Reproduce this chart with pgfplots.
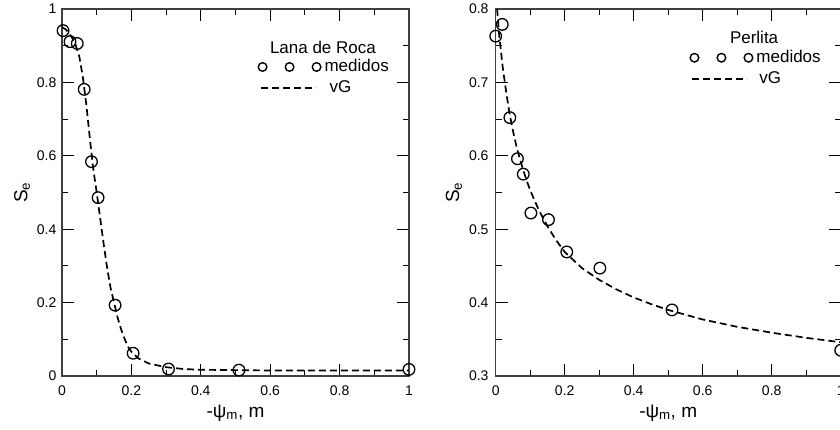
\documentclass[border=0pt]{standalone}
\usepackage{pgfplots}
\pgfplotsset{compat=1.18}
\usepackage{fontspec}
\setmainfont{Liberation Sans}

% measured points, left: lana de roca, right: perlita
\pgfplotstableread{
x y
0.003 0.941
0.023 0.911
0.044 0.906
0.064 0.781
0.085 0.584
0.104 0.486
0.153 0.193
0.205 0.062
0.307 0.019
0.510 0.016
1.000 0.018
}\lanamed
\pgfplotstableread{
x y
0.000 0.950
0.010 0.945
0.020 0.935
0.030 0.920
0.040 0.900
0.050 0.870
0.060 0.815
0.070 0.740
0.080 0.650
0.090 0.565
0.100 0.500
0.110 0.430
0.120 0.360
0.130 0.295
0.140 0.240
0.150 0.200
0.160 0.160
0.170 0.128
0.180 0.102
0.190 0.080
0.200 0.066
0.220 0.048
0.250 0.034
0.300 0.024
0.350 0.019
0.400 0.017
0.500 0.016
0.600 0.015
0.800 0.015
1.000 0.015
}\lanavg
\pgfplotstableread{
x y
0.000 0.763
0.019 0.779
0.041 0.652
0.063 0.596
0.080 0.575
0.102 0.522
0.153 0.513
0.206 0.469
0.302 0.447
0.511 0.390
1.000 0.335
}\permed
\pgfplotstableread{
x y
0.004 0.800
0.010 0.765
0.020 0.722
0.030 0.688
0.040 0.658
0.050 0.634
0.060 0.613
0.070 0.596
0.080 0.580
0.090 0.566
0.100 0.553
0.125 0.526
0.150 0.504
0.175 0.485
0.200 0.469
0.250 0.447
0.300 0.431
0.350 0.418
0.400 0.407
0.450 0.398
0.500 0.390
0.600 0.377
0.700 0.367
0.800 0.359
0.900 0.352
1.000 0.346
}\pervg

\pgfplotsset{
  panel/.style={
    scale only axis, height=367pt,
    xmin=0, xmax=1, xtick={0,0.2,0.4,0.6,0.8,1},
    minor x tick num=1, minor y tick num=1,
    tick align=inside, major tick length=12pt, minor tick length=6pt,
    axis line style={black!75, line width=1.3pt},
    tick style={black, line width=1pt},
    tick label style={font=\fontsize{14}{15}\selectfont,
      /pgf/number format/assume math mode=true},
    xticklabel style={inner sep=0pt, yshift=-10pt},
    clip mode=individual,
    every axis x label/.style={at={(axis description cs:0.5,-0.101)},
      anchor=center, font=\fontsize{19}{19}\selectfont},
    xlabel={-ψ\textsubscript{m}, m},
    ylabel={S\textsubscript{e}},
    legend style={draw=none, fill=none, inner sep=0pt, anchor=west,
      legend cell align=left, font=\fontsize{17}{17}\selectfont, row sep=6pt,
      nodes={inner sep=0pt, text height=12pt, text depth=3pt},
      /tikz/every odd column/.append style={column sep=3pt}},
  },
  med/.style={only marks, mark=o, mark size=5.8pt,
    mark options={line width=1.3pt, black},
    legend image code/.code={
      \draw[black, line width=1.4pt] (0pt,0) circle[radius=4.3pt]
        (27pt,0) circle[radius=4.3pt] (54pt,0) circle[radius=4.3pt];}},
  vg/.style={black, line width=1.7pt, dash pattern=on 7pt off 4pt, no marks,
    legend image code/.code={
      \draw[black, line width=1.7pt, dash pattern=on 7pt off 4pt] (-2pt,0) -- (53pt,0);}},
}

\begin{document}
\begin{tikzpicture}
\begin{axis}[panel, width=347pt, at={(0,0)}, anchor=south west,
    ymin=0, ymax=1, ytick={0,0.2,0.4,0.6,0.8,1},
    yticklabel style={inner sep=0pt, xshift=-5.5pt},
    every axis y label/.style={at={(axis description cs:-0.115,0.5)},
      rotate=90, anchor=center, font=\fontsize{19}{19}\selectfont},
    legend style={at={(axis description cs:0.563,0.8134)}}]
  \addplot[med] table {\lanamed};
  \addlegendentry{medidos}
  \addplot[vg] table {\lanavg};
  \addlegendentry{\hspace{5pt}vG}
  \node[font=\fontsize{17}{17}\selectfont] at (axis description cs:0.752,0.8965) {Lana de Roca};
\end{axis}
\begin{axis}[panel, width=345pt, at={(433.7pt,0)}, anchor=south west,
    ymin=0.3, ymax=0.8, ytick={0.3,0.4,0.5,0.6,0.7,0.8},
    yticklabel style={inner sep=0pt, xshift=-7pt},
    every axis y label/.style={at={(axis description cs:-0.121,0.5)},
      rotate=90, anchor=center, font=\fontsize{19}{19}\selectfont},
    legend style={at={(axis description cs:0.561,0.8386)}}]
  \addplot[med] table {\permed};
  \addlegendentry{medidos}
  \addplot[vg] table {\pervg};
  \addlegendentry{\hspace{3pt}vG}
  \node[font=\fontsize{17}{17}\selectfont] at (axis description cs:0.749,0.922) {Perlita};
\end{axis}
\pgfresetboundingbox
\path (-62pt,-54pt) rectangle (778pt,376pt);
\end{tikzpicture}
\end{document}
